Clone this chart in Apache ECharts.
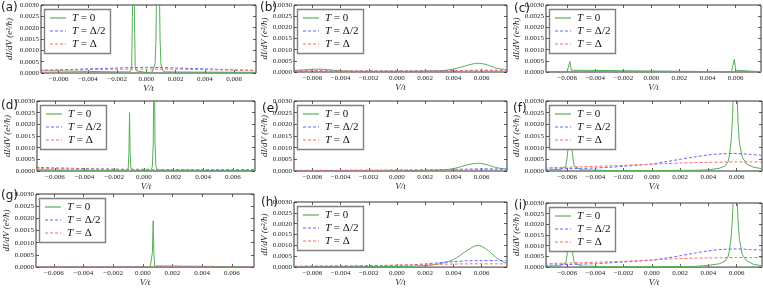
<!DOCTYPE html>
<html><head><meta charset="utf-8">
<script src="https://cdn.jsdelivr.net/npm/echarts@6/dist/echarts.min.js"></script>
<style>html,body{margin:0;padding:0;background:#fff}#c{width:763px;height:288px}</style>
</head><body><div id="c"></div>
<script>
// ---- data ----
const V = [-0.0076,-0.007,-0.006,-0.005,-0.004,-0.003,-0.002,-0.001,0,0.001,0.002,0.003,0.004,0.005,0.006,0.007,0.0078];
const xTicks = [-0.006,-0.004,-0.002,0,0.002,0.004,0.006];
const seriesNames = ['T = 0','T = Δ/2','T = Δ'];
const panelLabels = ['(a)','(b)','(c)','(d)','(e)','(f)','(g)','(h)','(i)'];

const aZero = [[-0.0076,0.0001],[-0.006,0.00009],[-0.004,0.00007],[-0.002,0.00005],[-0.0012,0.00005],[-0.00105,0.0001],[-0.001,0.0003],[-0.00095,0.0025],[-0.00088,0.006],[-0.00081,0.0025],[-0.00076,0.0003],[-0.0007,0.0001],[-0.0006,0.00004],[0,0.00002],[0.0004,0.00004],[0.0005,0.0001],[0.0006,0.0004],[0.00066,0.0015],[0.0007,0.0035],[0.0008,0.008],[0.0009,0.0035],[0.00094,0.0015],[0.001,0.0004],[0.0011,0.0001],[0.0013,0.00005],[0.003,0.00004],[0.0078,0.00003]];
const aHalf = [0.00011,0.00012,0.00014,0.00016,0.00018,0.0002,0.00022,0.00024,0.00025,0.00024,0.00022,0.0002,0.00018,0.00016,0.00014,0.00012,0.00011];
const aFull = [0.00012,0.00012,0.00013,0.00014,0.00015,0.00016,0.00017,0.00017,0.00017,0.00017,0.00017,0.00016,0.00015,0.00014,0.00013,0.00012,0.00012];

const bZero = [[-0.0076,0.00006],[-0.007,0.00008],[-0.0065,0.0001],[-0.006,0.00012],[-0.0056,0.00013],[-0.005,0.00011],[-0.0045,0.00008],[-0.004,0.00005],[-0.003,0.00003],[0,0.00003],[0.002,0.00004],[0.003,0.00006],[0.0035,0.00008],[0.004,0.00013],[0.0045,0.00021],[0.005,0.0003],[0.0055,0.00038],[0.0058,0.00039],[0.006,0.00038],[0.0065,0.0003],[0.007,0.00018],[0.0078,0.0001]];
const bHalf = [0.00006,0.00006,0.00005,0.00005,0.00004,0.00004,0.00004,0.00004,0.00004,0.00004,0.00005,0.00005,0.00006,0.00007,0.00008,0.00008,0.00008];
const bFull = [0.00006,0.00006,0.00006,0.00005,0.00005,0.00005,0.00005,0.00005,0.00005,0.00005,0.00005,0.00005,0.00006,0.00006,0.00006,0.00006,0.00006];

const cZero = [[-0.0076,0.00001],[-0.006,0.00001],[-0.0059,0.00008],[-0.0058,0.00047],[-0.0057,0.00008],[-0.0056,0.00001],[0.0057,0.00001],[0.0058,0.00008],[0.0059,0.00056],[0.006,0.00008],[0.0061,0.00002],[0.0078,0.00001]];
const cHalf = [0.000006,0.000006,0.000006,0.000006,0.000006,0.000006,0.000006,0.000006,0.000006,0.000006,0.000006,0.000006,0.000006,0.000006,0.000006,0.000006,0.000006];
const cFull = [0.000008,0.000008,0.000008,0.000008,0.000008,0.000008,0.000008,0.000008,0.000008,0.000008,0.000008,0.000008,0.000008,0.000008,0.000008,0.000008,0.000008];

const dZero = [[-0.0076,0.00006],[-0.006,0.00004],[-0.004,0.00003],[-0.0012,0.00003],[-0.00105,0.0001],[-0.001,0.0008],[-0.00096,0.0025],[-0.00092,0.0008],[-0.00087,0.0001],[-0.0007,0.00003],[0.0005,0.00003],[0.00058,0.0002],[0.00064,0.0012],[0.0007,0.006],[0.00076,0.0012],[0.00082,0.0002],[0.0009,0.00004],[0.003,0.00003],[0.0078,0.00002]];
const dHalf = [0.00016,0.00015,0.00013,0.00012,0.0001,0.00009,0.00008,0.00007,0.00007,0.00006,0.00006,0.00006,0.00005,0.00005,0.00005,0.00005,0.00005];
const dFull = [0.0001,0.0001,0.00009,0.00009,0.00008,0.00008,0.00007,0.00007,0.00007,0.00006,0.00006,0.00006,0.00006,0.00006,0.00006,0.00006,0.00006];

const eZero = [[-0.0076,0.00001],[0,0.00001],[0.002,0.00002],[0.003,0.00004],[0.0035,0.00006],[0.004,0.0001],[0.0045,0.00018],[0.005,0.00027],[0.0055,0.00032],[0.0058,0.00033],[0.006,0.00032],[0.0065,0.00025],[0.007,0.00015],[0.0078,0.00008]];
const eHalf = [0.00002,0.00002,0.00002,0.00002,0.00002,0.00003,0.00003,0.00003,0.00004,0.00004,0.00005,0.00006,0.00007,0.00008,0.00009,0.00009,0.00009];
const eFull = [0.00003,0.00003,0.00003,0.00003,0.00003,0.00003,0.00003,0.00003,0.00004,0.00004,0.00004,0.00005,0.00005,0.00005,0.00006,0.00006,0.00006];

const fZero = [[-0.0076,0.00004],[-0.0065,0.00006],[-0.0061,0.0002],[-0.006,0.0006],[-0.0059,0.0012],[-0.0058,0.0019],[-0.0057,0.0012],[-0.0056,0.0006],[-0.0055,0.0002],[-0.005,0.00005],[-0.003,0.00002],[0,0.00002],[0.003,0.00003],[0.004,0.00005],[0.0048,0.00012],[0.0052,0.00022],[0.0054,0.0004],[0.0055,0.0007],[0.0056,0.0012],[0.0057,0.0021],[0.00575,0.003],[0.0059,0.008],[0.00605,0.003],[0.0061,0.0021],[0.0062,0.0012],[0.0064,0.0006],[0.0067,0.0003],[0.0072,0.00016],[0.0078,0.0001]];
const fHalf = [0.00008,0.00009,0.0001,0.00011,0.00013,0.00016,0.0002,0.00025,0.0003,0.0004,0.0005,0.0006,0.00069,0.00074,0.00075,0.00071,0.00067];
const fFull = [0.00014,0.00015,0.00016,0.00018,0.0002,0.00022,0.00024,0.00027,0.00029,0.00032,0.00034,0.00036,0.00037,0.00038,0.00039,0.00039,0.00039];

const gZero = [[-0.0076,0.00001],[0.0005,0.00001],[0.0006,0.00005],[0.00065,0.0006],[0.0007,0.0019],[0.00075,0.0006],[0.0008,0.00005],[0.0009,0.00001],[0.0078,0.00001]];
const gHalf = [0.00001,0.00001,0.00001,0.00001,0.00001,0.00001,0.00001,0.00001,0.00001,0.00001,0.00001,0.00001,0.00001,0.00001,0.00001,0.00001,0.00001];
const gFull = [0.000008,0.000008,0.000008,0.000008,0.000008,0.000008,0.000008,0.000008,0.000008,0.000008,0.000008,0.000008,0.000008,0.000008,0.000008,0.000008,0.000008];

const hZero = [[-0.0076,0.00002],[-0.004,0.00002],[0,0.00003],[0.001,0.00004],[0.002,0.00007],[0.0025,0.0001],[0.003,0.00015],[0.0035,0.00023],[0.004,0.00035],[0.0045,0.00055],[0.005,0.00078],[0.0055,0.00097],[0.0057,0.001],[0.006,0.00096],[0.0065,0.00075],[0.007,0.00045],[0.0075,0.00025],[0.0078,0.00018]];
const hHalf = [0.00003,0.00003,0.00004,0.00004,0.00005,0.00005,0.00006,0.00007,0.00008,0.0001,0.00015,0.0002,0.00025,0.00029,0.0003,0.0003,0.00029];
const hFull = [0.00004,0.00004,0.00005,0.00005,0.00006,0.00006,0.00007,0.00008,0.00009,0.0001,0.00011,0.00013,0.00014,0.00015,0.00015,0.00015,0.00015];

const iZero = [[-0.0076,0.00004],[-0.0065,0.00006],[-0.0061,0.0002],[-0.006,0.0006],[-0.0059,0.0012],[-0.0058,0.0018],[-0.0057,0.0012],[-0.0056,0.0006],[-0.0055,0.0002],[-0.005,0.00005],[-0.003,0.00002],[0,0.00002],[0.003,0.00003],[0.004,0.00008],[0.0048,0.00016],[0.0052,0.00028],[0.0054,0.0005],[0.0055,0.0008],[0.0056,0.0013],[0.0057,0.0022],[0.00575,0.003],[0.0059,0.008],[0.00605,0.003],[0.0061,0.0022],[0.0062,0.0013],[0.0064,0.0006],[0.0067,0.0003],[0.0072,0.00013],[0.0078,0.00006]];
const iHalf = [0.00008,0.0001,0.00012,0.00014,0.00016,0.0002,0.00024,0.00028,0.00033,0.00042,0.00053,0.00065,0.00076,0.00083,0.00085,0.00082,0.0008];
const iFull = [0.00016,0.00017,0.00019,0.00021,0.00023,0.00025,0.00027,0.0003,0.00033,0.00037,0.0004,0.00042,0.00043,0.00044,0.00045,0.00045,0.00045];

// ---- layout (positions/styles) ----
const panels = [
  {zero:aZero, half:aHalf, full:aFull, box:[41,5,215,68],  xr:[-0.0072,0.0075], lab:[1,2],   ng:27, smooth:false},
  {zero:bZero, half:bHalf, full:bFull, box:[294,5,213,67], xr:[-0.0073,0.0078], lab:[260,2], ng:21, smooth:true},
  {zero:cZero, half:cHalf, full:cFull, box:[546,5,215,67], xr:[-0.0075,0.0078], lab:[514,3], ng:21, smooth:false},
  {zero:dZero, half:dHalf, full:dFull, box:[37,101,218,70], xr:[-0.0072,0.0075], lab:[1,100], ng:25, smooth:false},
  {zero:eZero, half:eHalf, full:eFull, box:[294,101,213,70],xr:[-0.0073,0.0078], lab:[262,103], ng:21, smooth:true},
  {zero:fZero, half:fHalf, full:fFull, box:[546,101,216,70],xr:[-0.0075,0.0078], lab:[513,103], ng:21, smooth:false},
  {zero:gZero, half:gHalf, full:gFull, box:[36,194,218,74], xr:[-0.0072,0.0075], lab:[1,190], ng:25, smooth:false},
  {zero:hZero, half:hHalf, full:hFull, box:[294,202,213,66],xr:[-0.0073,0.0078], lab:[261,197], ng:21, smooth:true},
  {zero:iZero, half:iHalf, full:iFull, box:[546,203,216,65],xr:[-0.0075,0.0078], lab:[514,200], ng:21, smooth:false}
];
const colors = ['#55b055','#6666ff','#ff6b6b'];
const dashes = [null,[3,2],[3,2]];
const serif = 'Liberation Serif';
const axisCol = '#333';

const grid=[], xAxis=[], yAxis=[], series=[], title=[], graphic=[];
panels.forEach((p,i)=>{
  grid.push({left:p.box[0], top:p.box[1], width:p.box[2], height:p.box[3], show:true, borderColor:axisCol, borderWidth:1, backgroundColor:'transparent'});
  const xBase = {type:'value', gridIndex:i, min:p.xr[0], max:p.xr[1], splitLine:{show:false}, axisLine:{show:false, onZero:false},
    axisTick:{show:true, inside:true, length:3, customValues:xTicks, lineStyle:{color:axisCol, width:0.8}}};
  xAxis.push(Object.assign({}, xBase, {position:'bottom',
    axisLabel:{show:true, customValues:xTicks, margin:3, fontFamily:serif, fontSize:7, color:'#222',
      formatter:v=> (v<0?'\u2212':'') + Math.abs(v).toFixed(3)},
    name:'V/t', nameLocation:'middle', nameGap:10,
    nameTextStyle:{fontFamily:serif, fontStyle:'italic', fontSize:9, color:'#222'}}));
  xAxis.push(Object.assign({}, xBase, {position:'top', axisLabel:{show:false}}));
  const yBase = {type:'value', gridIndex:i, min:0, max:0.003, interval:0.0005, splitLine:{show:false}, axisLine:{show:false, onZero:false},
    axisTick:{show:true, inside:true, length:3, lineStyle:{color:axisCol, width:0.8}}};
  yAxis.push(Object.assign({}, yBase, {position:'left',
    axisLabel:{show:true, margin:2, fontFamily:serif, fontSize:7, color:'#222', formatter:v=>v.toFixed(4)},
    name:'dI/dV (e\u00b2/h)', nameLocation:'middle', nameRotate:90, nameGap:p.ng,
    nameTextStyle:{fontFamily:serif, fontStyle:'italic', fontSize:9, color:'#222'}}));
  yAxis.push(Object.assign({}, yBase, {position:'right', axisLabel:{show:false}}));
  const half = V.map((x,k)=>[x,p.half[k]]);
  const full = V.map((x,k)=>[x,p.full[k]]);
  const common = {type:'line', xAxisIndex:2*i, yAxisIndex:2*i, symbol:'none', showSymbol:false, animation:false, clip:true, z:2};
  series.push(Object.assign({}, common, {name:seriesNames[0], data:p.zero, smooth:p.smooth?0.3:false,
    lineStyle:{color:colors[0], width:1}}));
  series.push(Object.assign({}, common, {name:seriesNames[1], data:half, smooth:0.3,
    lineStyle:{color:colors[1], width:1, type:dashes[1]}}));
  series.push(Object.assign({}, common, {name:seriesNames[2], data:full, smooth:0.3,
    lineStyle:{color:colors[2], width:1, type:dashes[2]}}));
  title.push({text:panelLabels[i], left:p.lab[0], top:p.lab[1], padding:0,
    textStyle:{fontFamily:'DejaVu Sans', fontSize:12, fontWeight:'normal', color:'#222'}});
  // legend box (drawn as graphic so each panel has its own styled key)
  const lx = p.box[0]+3, ly = p.box[1]+4;
  graphic.push({type:'rect', z:100, shape:{x:lx+0.5, y:ly+0.5, width:66, height:44},
    style:{fill:'#fff', stroke:'#808080', lineWidth:1.4}});
  seriesNames.forEach((n,k)=>{
    const yy = ly + 9 + k*13;
    graphic.push({type:'line', z:101, shape:{x1:lx+6, y1:yy, x2:lx+22, y2:yy},
      style:{stroke:colors[k], lineWidth:1.2, lineDash:dashes[k]}});
    graphic.push({type:'text', z:101, x:lx+28, y:yy,
      style:{text:n.replace('T','{i|T}'), fill:'#111', font:'11px "Liberation Serif"', verticalAlign:'middle', align:'left',
        rich:{i:{fontStyle:'italic', fontFamily:serif, fontSize:11, fill:'#111'}}}});
  });
});

const chart = echarts.init(document.getElementById('c'), null, {renderer:'canvas'});
chart.setOption({animation:false, backgroundColor:'#fff', grid, xAxis, yAxis, series, title, graphic});
</script></body></html>
